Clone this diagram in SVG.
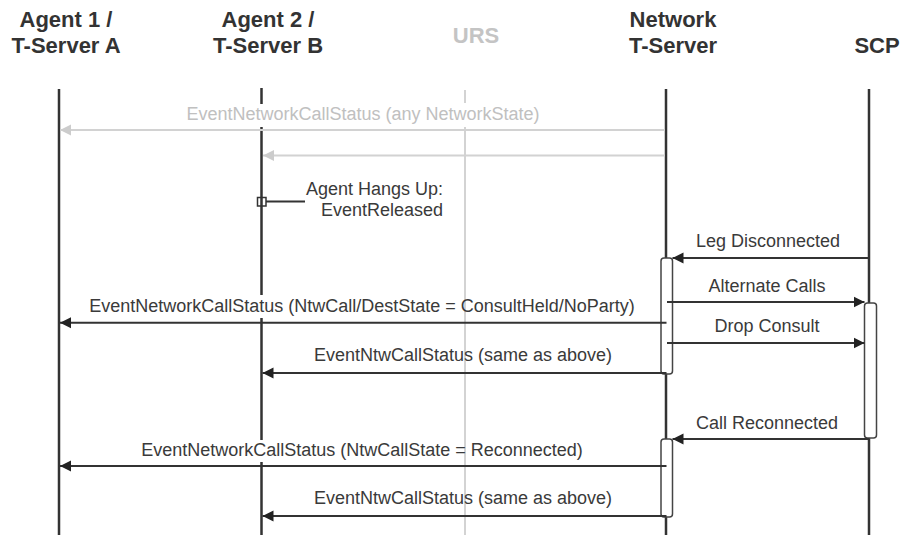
<svg xmlns="http://www.w3.org/2000/svg" width="902" height="535" viewBox="0 0 902 535">
<style>
.hdr{font-family:"Liberation Sans",Arial,sans-serif;font-size:22px;font-weight:bold;fill:#333;text-anchor:middle}
.hdrg{fill:#c4c4c4}
.lbl{font-family:"Liberation Sans",Arial,sans-serif;font-size:18px;fill:#3a3a3a;text-anchor:middle}
.lblg{fill:#c0c0c0}
.life{stroke:#333;stroke-width:2.5;fill:none}
.lifeg{stroke:#cfcfcf;stroke-width:1.8;fill:none}
.msg{stroke:#333;stroke-width:2;fill:none;marker-end:url(#ah)}
.msgg{stroke:#d2d2d2;stroke-width:2;fill:none;marker-end:url(#ahg)}
.act{fill:#fff;stroke:#444;stroke-width:1.5}
</style>
<defs>
<marker id="ah" markerUnits="userSpaceOnUse" markerWidth="12" markerHeight="12" refX="11" refY="6" orient="auto">
<path d="M0,0.5 L11,6 L0,11.5 z" fill="#222"/>
</marker>
<marker id="ahg" markerUnits="userSpaceOnUse" markerWidth="12" markerHeight="12" refX="11" refY="6" orient="auto">
<path d="M0,0.5 L11,6 L0,11.5 z" fill="#cccccc"/>
</marker>
</defs>
<rect width="902" height="535" fill="#fff"/>

<g id="agent1">
<text class="hdr" x="66" y="27">Agent 1 /</text>
<text class="hdr" x="66" y="53">T-Server A</text>
<line class="life" x1="59" y1="89" x2="59" y2="535"/>
</g>
<g id="agent2">
<text class="hdr" x="268" y="27">Agent 2 /</text>
<text class="hdr" x="268" y="53">T-Server B</text>
<path class="life" d="M261.5,88 V104 M261.5,127 V295 M261.5,318 V440 M261.5,462 V535"/>
</g>
<g id="urs">
<text class="hdr hdrg" x="476" y="43">URS</text>
<path class="lifeg" d="M465,90 V103 M465,127 V535"/>
</g>
<g id="network">
<text class="hdr" x="673" y="27">Network</text>
<text class="hdr" x="673" y="53">T-Server</text>
<line class="life" x1="666" y1="89" x2="666" y2="535"/>
<rect class="act" x="661" y="258" width="11.5" height="116" rx="3"/>
<rect class="act" x="661" y="439" width="11.5" height="78" rx="3"/>
</g>
<g id="scp">
<text class="hdr" x="877" y="53">SCP</text>
<line class="life" x1="869" y1="89" x2="869" y2="535"/>
<rect class="act" x="864.5" y="303" width="12" height="135" rx="3"/>
</g>

<g id="connectors">
<line class="msgg" x1="665" y1="130" x2="60" y2="130"/>
<line class="msgg" x1="665" y1="155.5" x2="263" y2="155.5"/>
<rect x="257.5" y="197.5" width="8.5" height="8.5" fill="none" stroke="#333" stroke-width="1.5"/>
<line x1="266" y1="201.5" x2="305" y2="201.5" stroke="#333" stroke-width="1.8"/>
<line class="msg" x1="869" y1="258" x2="672.5" y2="258"/>
<line class="msg" x1="667" y1="302" x2="864.5" y2="302"/>
<line class="msg" x1="667" y1="343" x2="864.5" y2="343"/>
<line class="msg" x1="666.5" y1="322.7" x2="60" y2="322.7"/>
<line class="msg" x1="666.5" y1="373" x2="262.5" y2="373"/>
<line class="msg" x1="869" y1="439" x2="672.5" y2="439"/>
<line class="msg" x1="666.5" y1="466" x2="60" y2="466"/>
<line class="msg" x1="666.5" y1="516" x2="262.5" y2="516"/>
</g>

<g id="labels">
<text class="lbl lblg" x="363" y="120">EventNetworkCallStatus (any NetworkState)</text>
<text class="lbl" x="443" y="195" text-anchor="end" style="text-anchor:end">Agent Hangs Up:</text>
<text class="lbl" x="443" y="216" style="text-anchor:end">EventReleased</text>
<text class="lbl" x="768" y="247">Leg Disconnected</text>
<text class="lbl" x="767" y="292">Alternate Calls</text>
<text class="lbl" x="362" y="312">EventNetworkCallStatus (NtwCall/DestState = ConsultHeld/NoParty)</text>
<text class="lbl" x="767" y="332">Drop Consult</text>
<text class="lbl" x="463" y="361">EventNtwCallStatus (same as above)</text>
<text class="lbl" x="767" y="429">Call Reconnected</text>
<text class="lbl" x="362" y="456">EventNetworkCallStatus (NtwCallState = Reconnected)</text>
<text class="lbl" x="463" y="504">EventNtwCallStatus (same as above)</text>
</g>
</svg>
